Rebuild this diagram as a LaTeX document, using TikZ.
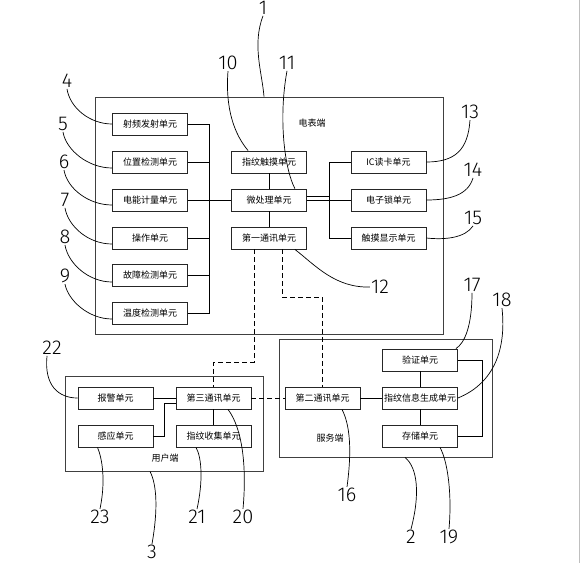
\documentclass[tikz,border=0pt]{standalone}
\usepackage{fontspec}
\usepackage{tikz}
\usetikzlibrary{calc,
	positioning}
\newfontfamily\cjk{Noto Sans CJK SC}
\newfontfamily\numfont{Fira Sans Light}
\tikzstyle{unit}=[draw=black!85, line width=0.8pt, minimum width=75pt, minimum height=22pt,
		inner sep=0, font=\cjk\fontsize{9}{9}\selectfont]
\tikzstyle{frame}=[draw=black!75, line width=0.8pt, inner sep=0]
\tikzstyle{tag}=[inner sep=0, font=\cjk\fontsize{9}{9}\selectfont]
\tikzstyle{num}=[inner sep=1pt, font=\numfont\fontsize{20}{20}\selectfont]
\tikzstyle{lead}=[draw, line width=0.7pt]
\tikzstyle{link}=[draw, line width=0.8pt]
\tikzstyle{dashline}=[draw, line width=0.8pt, dash pattern=on 5pt off 3pt]
\begin{document}
\begin{tikzpicture}[x=1pt, y=-1pt]
            \useasboundingbox (0,0) rectangle (581,563);
            \draw[gray!50, line width=1.5pt] (579.5,0) -- (579.5,563);
            % frames
            \node[frame, minimum width=348pt, minimum height=237pt] (db) at (269,215.5) {};
            \node[frame, minimum width=198pt, minimum height=95pt] (yh) at (164,423.5) {};
            \node[frame, minimum width=213pt, minimum height=118pt] (fw) at (385.5,398) {};
            \node[tag] (dbt) at (312,123) {电表端};
            \node[tag] (yht) at (165,458) {用户端};
            \node[tag] (fwt) at (330,438) {服务端};
            % meter units
            \node[unit] (sp) at (150,124) {射频发射单元};
            \node[unit] (wz) at (150,162) {位置检测单元};
            \node[unit] (dn) at (150,200) {电能计量单元};
            \node[unit] (cz) at (150,238) {操作单元};
            \node[unit] (gz) at (150,275) {故障检测单元};
            \node[unit] (wd) at (150,313) {温度检测单元};
            \node[unit] (zw) at (269,162) {指纹触摸单元};
            \node[unit] (wcl) at (269,200) {微处理单元};
            \node[unit] (dy) at (269,238) {第一通讯单元};
            \node[unit] (ic) at (388.5,162) {IC读卡单元};
            \node[unit] (dzs) at (388.5,200) {电子锁单元};
            \node[unit] (cx) at (388.5,238) {触摸显示单元};
            % user units
            \node[unit] (bj) at (115.5,398) {报警单元};
            \node[unit] (gy) at (115.5,436) {感应单元};
            \node[unit] (ds) at (213.5,398) {第三通讯单元};
            \node[unit] (zs) at (213.5,436) {指纹收集单元};
            % server units
            \node[unit] (de) at (322.5,398) {第二通讯单元};
            \node[unit] (yz) at (420,360) {验证单元};
            \node[unit] (xx) at (420,398) {指纹信息生成单元};
            \node[unit] (cc) at (420,436) {存储单元};
            % bus coordinates
            \coordinate (lb) at (209,0);
            \coordinate (rb) at (329,0);
            \coordinate (m1) at (0,362);
            \coordinate (m2) at (0,297);
            % meter links
            \draw[link] (sp.east) -- (sp.east -| lb) -- (wd.east -| lb) -- (wd.east);
            \draw[link] (wz.east) -- (wz.east -| lb);
            \draw[link] (cz.east) -- (cz.east -| lb);
            \draw[link] (gz.east) -- (gz.east -| lb);
            \draw[link] (dn.east) -- (wcl.west);
            \draw[link] (zw.south) -- (wcl.north);
            \draw[link] (wcl.south) -- (dy.north);
            \draw[link] (ic.west) -- (ic.west -| rb) -- (cx.west -| rb) -- (cx.west);
            \draw[link] (wcl.east) -- (dzs.west);
            \draw[link] ([yshift=4pt]wcl.east) -- ([yshift=4pt]wcl.east -| rb);
            % user links
            \draw[link] (bj.east) -- (ds.west);
            \draw[link] (gy.east) -- ++(11,0) |- ([yshift=-5pt]ds.west);
            \draw[link] (ds.south) -- (zs.north);
            % server links
            \draw[link] (de.east) -- (xx.west);
            \draw[link] (yz.south) -- (xx.north);
            \draw[link] (xx.south) -- (cc.north);
            \draw[link] (yz.east) -- ++(24,0) |- (cc.east);
            % wireless
            \draw[dashline] ([xshift=-15pt]dy.south) -- ([xshift=-15pt]dy.south |- m1) -| (ds.north);
            \draw[dashline] ([xshift=13pt]dy.south) -- ([xshift=13pt]dy.south |- m2) -| (de.north);
            \draw[dashline] (ds.east) -- (de.west);
            % numbers
            \node[num] (n1) at (263,8) {1};
            \node[num] (n2) at (411,537) {2};
            \node[num] (n3) at (152,552) {3};
            \node[num] (n4) at (67,81) {4};
            \node[num] (n5) at (63,124) {5};
            \node[num] (n6) at (64,162) {6};
            \node[num] (n7) at (65,200) {7};
            \node[num] (n8) at (65,237) {8};
            \node[num] (n9) at (65,276) {9};
            \node[num] (n10) at (228,63) {10};
            \node[num] (n11) at (287,63) {11};
            \node[num] (n12) at (380,287) {12};
            \node[num] (n13) at (470,112) {13};
            \node[num] (n14) at (473,170) {14};
            \node[num] (n15) at (473,218) {15};
            \node[num] (n16) at (347,495) {16};
            \node[num] (n17) at (472,285) {17};
            \node[num] (n18) at (502,300) {18};
            \node[num] (n19) at (449,537) {19};
            \node[num] (n20) at (243,517) {20};
            \node[num] (n21) at (197,517) {21};
            \node[num] (n22) at (52,348) {22};
            \node[num] (n23) at (100,517) {23};
            % leaders
            \draw[lead] (n1.south) .. controls (252,45) and (262,72) .. ([xshift=-5pt]db.north);
            \draw[lead] (n4.south) .. controls (70,108) and (90,124) .. (sp.west);
            \draw[lead] (n5.south) .. controls (66,150) and (88,168) .. ([yshift=-6pt]wz.west);
            \draw[lead] (n6.south) .. controls (67,188) and (88,205) .. ([yshift=-5pt]dn.west);
            \draw[lead] (n7.south) .. controls (68,226) and (88,244) .. ([yshift=-6pt]cz.west);
            \draw[lead] (n8.south) .. controls (68,263) and (88,282) .. ([yshift=-7pt]gz.west);
            \draw[lead] (n9.south) .. controls (68,300) and (88,319) .. ([yshift=-6pt]wd.west);
            \draw[lead] (n10.south) .. controls (225,110) and (235,135) .. ([xshift=17pt]zw.north west);
            \draw[lead] (n11.south) .. controls (278,120) and (285,170) .. ([xshift=-12pt]wcl.north east);
            \draw[lead] (n12.west) .. controls (335,288) and (315,265) .. ([xshift=-12pt]dy.south east);
            \draw[lead] (n13.south) .. controls (468,150) and (455,162) .. (ic.east);
            \draw[lead] (n14.south) .. controls (468,195) and (450,200) .. (dzs.east);
            \draw[lead] (n15.south) .. controls (465,238) and (445,240) .. (cx.east);
            \draw[lead] (n17.south) .. controls (472,325) and (465,343) .. ([xshift=-2pt]yz.north east);
            \draw[lead] (n18.south) .. controls (507,355) and (490,385) .. (xx.east);
            \draw[lead] (n16.north) .. controls (352,450) and (350,425) .. ([xshift=19.5pt]de.south);
            \draw[lead] (n2.north) .. controls (420,495) and (418,468) .. ([xshift=19.5pt]fw.south);
            \draw[lead] (n19.north) .. controls (452,495) and (448,462) .. ([xshift=20pt]cc.south);
            \draw[lead] ([xshift=-5pt]n22.south) .. controls (44,385) and (58,398) .. (bj.west);
            \draw[lead] (n23.north) .. controls (106,480) and (102,458) .. ([xshift=-18pt]gy.south);
            \draw[lead] (n21.north) .. controls (203,482) and (202,458) .. ([xshift=-17.5pt]zs.south);
            \draw[lead] (n20.north) .. controls (247,465) and (242,428) .. ([xshift=14.5pt]ds.south);
            \draw[lead] (n3.north) .. controls (158,510) and (157,485) .. ([xshift=-14pt]yh.south);
        \end{tikzpicture}
\end{document}
